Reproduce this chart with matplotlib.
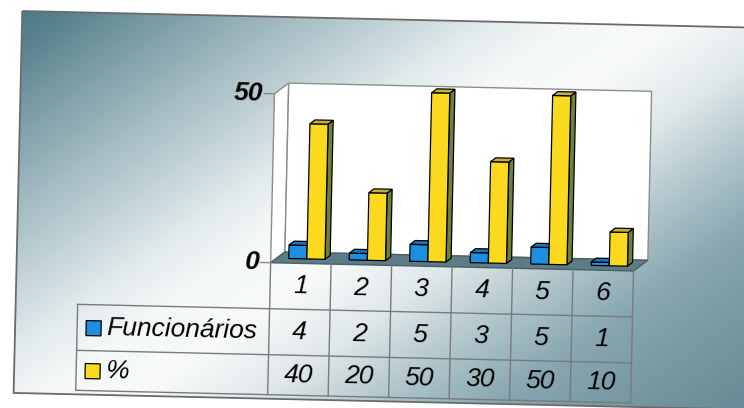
import numpy as np
import matplotlib
matplotlib.use("Agg")
import matplotlib.pyplot as plt
from matplotlib.patches import Polygon, Rectangle, Patch
from matplotlib.transforms import Affine2D
from matplotlib.text import Text

categories = ["1", "2", "3", "4", "5", "6"]
funcionarios = [4, 2, 5, 3, 5, 1]
percentual = [40, 20, 50, 30, 50, 10]
series_labels = ["Funcionários", "%"]
y_ticks = [0, 50]

W, H = 744, 408
TILT = -1.3  # the printed slide sits slightly askew

fig = plt.figure(figsize=(W / 100, H / 100), dpi=100)
fig.patch.set_facecolor("white")

# --- slide background (pixel units, y pointing down) ---
page = fig.add_axes([0, 0, 1, 1])
sx0, sy0, sx1, sy1 = 18, 19, 775, 401
gx, gy = np.meshgrid(np.arange(sx0, sx1) + 0.5, np.arange(sy0, sy1) + 0.5)
t = 0.588 * gx + 0.809 * gy
stop_pos = [0, 50, 120, 220, 300, 350, 410, 480, 560, 620, 740, 820]
stop_hex = ["#4a7581", "#56808b", "#80a0a8", "#b6cacf", "#e2eaec", "#f5f8f8",
            "#f8fafa", "#dfe7e9", "#a9c0c7", "#87a6b0", "#6b8e99", "#608591"]
stop_rgb = np.array([matplotlib.colors.to_rgb(c) for c in stop_hex])
grad = np.dstack([np.interp(t, stop_pos, stop_rgb[:, k]) for k in range(3)]
                 + [np.ones_like(t)])
page.imshow(grad, extent=(sx0, sx1, sy1, sy0), aspect="auto", interpolation="bilinear")
page.add_patch(Rectangle((sx0, sy0), sx1 - sx0, sy1 - sy0, fill=False,
                         edgecolor="#6a6a6a", lw=1.3))
page.set_xlim(0, W)
page.set_ylim(H, 0)
page.axis("off")

# --- 3D column chart ---
L, R, B0, T50 = 272, 635, 265, 96
n = len(categories)
unit = (R - L) / n
ax = fig.add_axes([L / W, 1 - B0 / H, (R - L) / W, (B0 - T50) / H])
ax.set_xlim(0, n)
ax.set_ylim(0, max(y_ticks))
ax.axis("off")

DX = 14 / unit
DY = 11 / ((B0 - T50) / max(y_ticks))
top = max(y_ticks)
wall_edge = "#8c8c8c"

ax.add_patch(Polygon([(0, 0), (DX, DY), (DX, top + DY), (0, top)],
                     facecolor="white", edgecolor=wall_edge, lw=1))
ax.add_patch(Polygon([(DX, DY), (n + DX, DY), (n + DX, top + DY), (DX, top + DY)],
                     facecolor="white", edgecolor=wall_edge, lw=1))
ax.add_patch(Polygon([(0, 0), (n, 0), (n + DX, DY), (DX, DY)],
                     facecolor="#5d7c85", edgecolor="#4a5f66", lw=1))


def bar3d(x0, w, h, front, lid, side):
    f0, f1 = 0.42, 0.78
    ax0, ay0, ax1, ay1 = f0 * DX, f0 * DY, f1 * DX, f1 * DY
    faces = [
        ([(x0 + w + ax0, ay0), (x0 + w + ax1, ay1), (x0 + w + ax1, h + ay1),
          (x0 + w + ax0, h + ay0)], side),
        ([(x0 + ax0, ay0), (x0 + w + ax0, ay0), (x0 + w + ax0, h + ay0),
          (x0 + ax0, h + ay0)], front),
        ([(x0 + ax0, h + ay0), (x0 + w + ax0, h + ay0), (x0 + w + ax1, h + ay1),
          (x0 + ax1, h + ay1)], lid),
    ]
    for pts, c in faces:
        ax.add_patch(Polygon(pts, facecolor=c, edgecolor="black", lw=0.9))


bw = 0.3
for i in range(n):
    bar3d(i + 0.2, bw, funcionarios[i], "#1e8fe0", "#1c74ba", "#145a94")
    bar3d(i + 0.2 + bw, bw, percentual[i], "#fbd91e", "#c2b03c", "#6f803c")

tick_font = dict(family="Liberation Sans", style="italic", weight="bold", size=19)
for v in y_ticks:
    ax.plot([-10 / unit, 0], [v, v], color=wall_edge, lw=1)
    ax.text(-11 / unit, v, str(v), ha="right", va="center", **tick_font)

# --- data table under the chart ---
rows = [0, 46, 92, 132]
tab = fig.add_axes([L / W, 1 - (B0 + rows[-1]) / H, (R - L) / W, rows[-1] / H], sharex=ax)
tab.set_ylim(rows[-1], 0)
tab.axis("off")

grid_c = "#7a7a7a"
lab_left = (80 - L) / unit
for i in range(n + 1):
    tab.plot([i, i], [rows[0], rows[-1]], color=grid_c, lw=1)
tab.plot([lab_left, lab_left], [rows[1], rows[-1]], color=grid_c, lw=1)
for y in rows[1:]:
    tab.plot([lab_left, n], [y, y], color=grid_c, lw=1)

cell_font = dict(family="Liberation Sans", style="italic", size=19)
for i, c in enumerate(categories):
    tab.text(i + 0.5, (rows[0] + rows[1]) / 2, c, ha="center", va="center", **cell_font)

for r, (label, vals, col) in enumerate(zip(series_labels, [funcionarios, percentual],
                                           ["#1e8fe0", "#fbd91e"])):
    yc = (rows[r + 1] + rows[r + 2]) / 2
    tab.add_patch(Rectangle(((89 - L) / unit, yc - 7), 15 / unit, 15, facecolor=col,
                            edgecolor="black", lw=0.9))
    tab.text((109 - L) / unit, yc, label, ha="left", va="center", **cell_font)
    for i, v in enumerate(vals):
        tab.text(i + 0.5, yc, str(v), ha="center", va="center", **cell_font)

# tilt everything around the figure centre
rot = Affine2D().rotate_deg_around(W / 2, H / 2, TILT)
for a_ax in (page, ax, tab):
    for art in list(a_ax.images) + list(a_ax.patches) + list(a_ax.lines) + list(a_ax.texts):
        if isinstance(art, Patch):
            art.set_transform(art.get_data_transform() + rot)
        else:
            art.set_transform(art.get_transform() + rot)
        art.set_clip_on(False)
        if isinstance(art, Text):
            art.set_rotation(TILT)
            art.set_rotation_mode("anchor")

fig.savefig("out.png", dpi=100)
